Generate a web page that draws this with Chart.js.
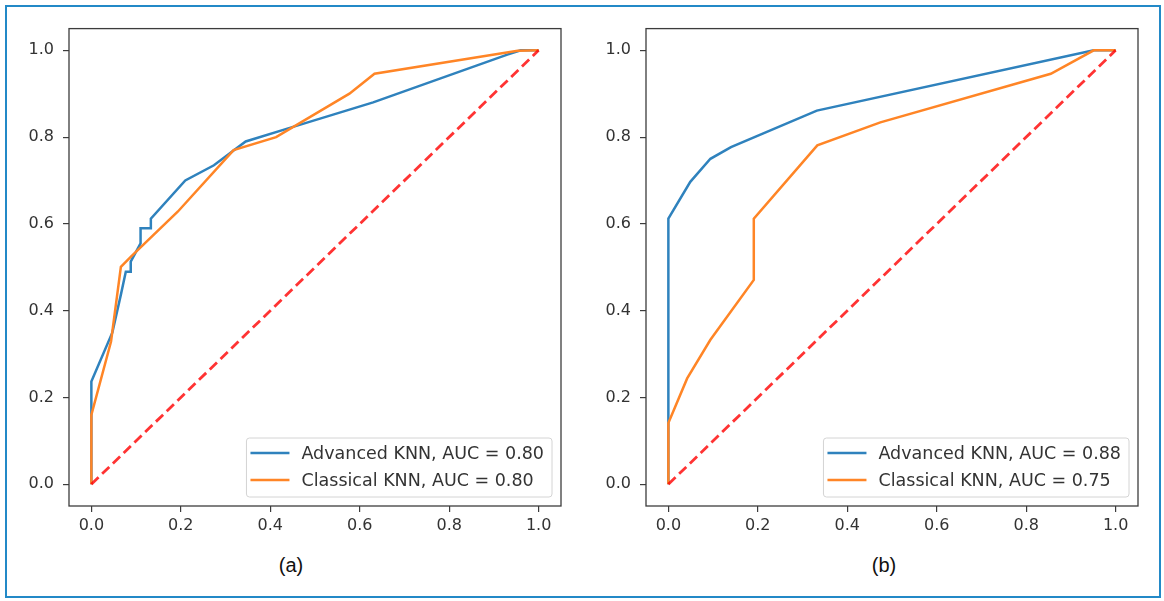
<!DOCTYPE html>
<html>
<head>
<meta charset="utf-8">
<script src="https://cdn.jsdelivr.net/npm/chart.js@4.4.0/dist/chart.umd.min.js"></script>
<style>
  body { margin: 0; background: #fff; width: 1164px; height: 601px; position: relative; overflow: hidden; }
  .frame { position: absolute; left: 5px; top: 5px; width: 1156px; height: 593px; box-sizing: border-box; border: 2px solid #2389c7; }
  .panel { position: absolute; top: 10px; }
  .cap { position: absolute; top: 554px; width: 60px; text-align: center; font: 20px "Liberation Sans", Arial, sans-serif; color: #111; }
</style>
</head>
<body>
<div class="frame"></div>
<canvas id="chartA" class="panel" style="left:10px" width="570" height="540"></canvas>
<canvas id="chartB" class="panel" style="left:587px" width="570" height="540"></canvas>
<div class="cap" style="left:261px">(a)</div>
<div class="cap" style="left:854px">(b)</div>
<script>
// axis ticks (both panels)
const tickValues = [0.0, 0.2, 0.4, 0.6, 0.8, 1.0];

// panel (a)
const advA_x = [0, 0, 0.047, 0.066, 0.077, 0.088, 0.088, 0.11, 0.11, 0.133, 0.133, 0.21, 0.274, 0.345, 0.44, 0.63, 0.93, 0.96, 1.0];
const advA_y = [0, 0.237, 0.35, 0.437, 0.49, 0.49, 0.513, 0.555, 0.59, 0.59, 0.612, 0.70, 0.735, 0.79, 0.82, 0.88, 0.99, 1.0, 1.0];
const clsA_x = [0, 0, 0.044, 0.066, 0.088, 0.193, 0.318, 0.413, 0.577, 0.633, 0.953, 1.0];
const clsA_y = [0, 0.16, 0.329, 0.501, 0.524, 0.628, 0.77, 0.80, 0.90, 0.946, 0.999, 1.0];
const labelsA = ['Advanced KNN, AUC = 0.80', 'Classical KNN, AUC = 0.80'];

// panel (b)
const advB_x = [0, 0, 0.049, 0.094, 0.14, 0.332, 0.951, 1.0];
const advB_y = [0, 0.612, 0.697, 0.75, 0.777, 0.861, 1.0, 1.0];
const clsB_x = [0, 0, 0.042, 0.094, 0.191, 0.191, 0.333, 0.474, 0.855, 0.951, 1.0];
const clsB_y = [0, 0.141, 0.244, 0.333, 0.471, 0.612, 0.781, 0.834, 0.946, 1.0, 1.0];
const labelsB = ['Advanced KNN, AUC = 0.88', 'Classical KNN, AUC = 0.75'];

// chance line
const diag_x = [0, 1];
const diag_y = [0, 1];

const BLUE = '#2f82bd';
const ORANGE = '#ff8526';
const TXT = '#333';

function pts(xs, ys) {
  return xs.map((x, i) => ({ x: x, y: ys[i] }));
}

// box around plot area + legend in lower right
const boxPlugin = {
  id: 'boxLegend',
  afterDraw(chart) {
    const ctx = chart.ctx;
    const a = chart.chartArea;
    ctx.save();
    ctx.strokeStyle = '#3c3c3c';
    ctx.lineWidth = 1.3;
    ctx.strokeRect(a.left, a.top, a.right - a.left, a.bottom - a.top);

    const items = chart.data.datasets.filter(d => d.inLegend);
    ctx.font = '17.5px "DejaVu Sans"';
    let w = 0;
    items.forEach(d => { w = Math.max(w, ctx.measureText(d.label).width); });
    const bw = 4 + 39 + 12 + w + 8;
    const bh = 59;
    const bx = a.right - 9 - bw;
    const by = a.bottom - 9 - bh;
    ctx.beginPath();
    ctx.roundRect(bx, by, bw, bh, 3);
    ctx.fillStyle = 'rgba(255,255,255,0.8)';
    ctx.fill();
    ctx.strokeStyle = '#d4d4d4';
    ctx.lineWidth = 1;
    ctx.stroke();
    items.forEach((d, i) => {
      const ry = by + 15 + i * 27;
      ctx.beginPath();
      ctx.moveTo(bx + 4, ry);
      ctx.lineTo(bx + 43, ry);
      ctx.strokeStyle = d.borderColor;
      ctx.lineWidth = 2.5;
      ctx.stroke();
      ctx.fillStyle = TXT;
      ctx.textBaseline = 'middle';
      ctx.textAlign = 'left';
      ctx.fillText(d.label, bx + 55, ry + 1);
    });
    ctx.restore();
  }
};

function axis(isY) {
  return {
    type: 'linear',
    min: -0.05,
    max: 1.05,
    afterBuildTicks: s => { s.ticks = tickValues.map(v => ({ value: v })); },
    afterFit: s => { if (isY) s.width = 59; else s.height = 44; },
    border: { display: false },
    grid: { drawOnChartArea: false, drawTicks: true, tickLength: 6, tickColor: '#3c3c3c', lineWidth: 1.2 },
    ticks: {
      padding: isY ? 9 : 4,
      color: TXT,
      font: { family: 'DejaVu Sans', size: 16 },
      callback: v => v.toFixed(1)
    }
  };
}

function makeChart(id, ax, ay, cx, cy, labels) {
  return new Chart(document.getElementById(id), {
    type: 'line',
    data: {
      datasets: [
        { label: labels[0], inLegend: true, data: pts(ax, ay), borderColor: BLUE, borderWidth: 2.5, order: 3 },
        { label: labels[1], inLegend: true, data: pts(cx, cy), borderColor: ORANGE, borderWidth: 2.5, order: 2 },
        { label: 'chance', data: pts(diag_x, diag_y), borderColor: 'rgba(255,0,0,0.8)', borderWidth: 2.8, borderDash: [10, 5], order: 1 }
      ]
    },
    options: {
      responsive: false,
      animation: false,
      layout: { padding: { left: 0, top: 17, right: 19, bottom: 0 } },
      elements: { point: { radius: 0 }, line: { tension: 0, fill: false, borderCapStyle: 'butt' } },
      plugins: { legend: { display: false }, tooltip: { enabled: false } },
      scales: { x: axis(false), y: axis(true) }
    },
    plugins: [boxPlugin]
  });
}

makeChart('chartA', advA_x, advA_y, clsA_x, clsA_y, labelsA);
makeChart('chartB', advB_x, advB_y, clsB_x, clsB_y, labelsB);
</script>
</body>
</html>
